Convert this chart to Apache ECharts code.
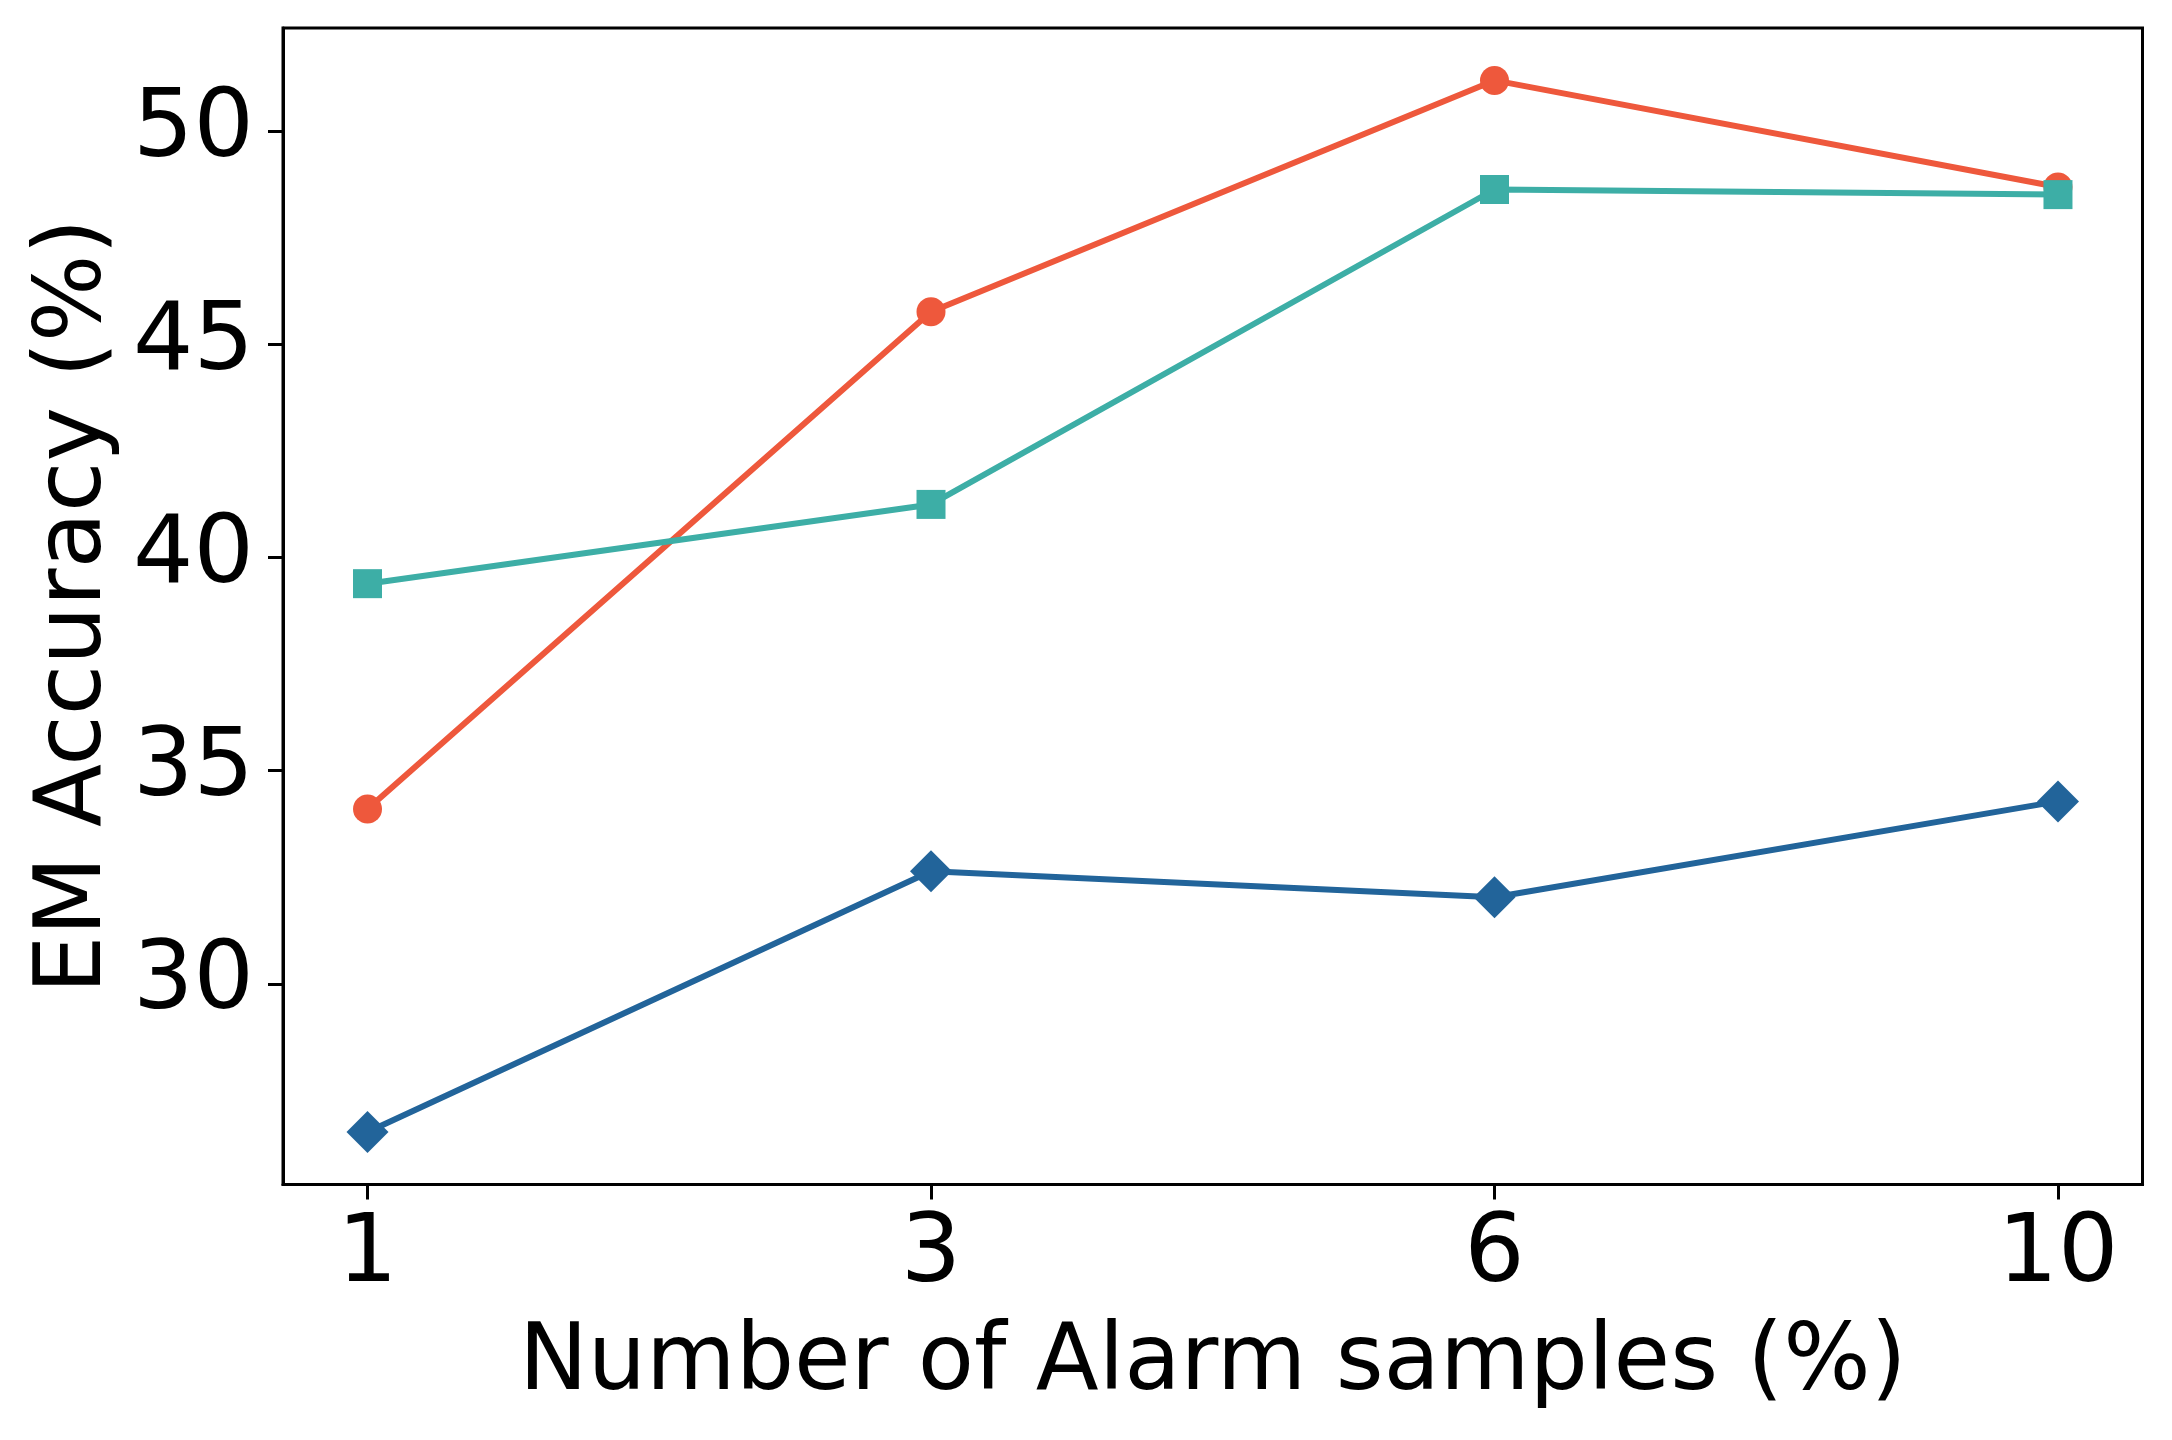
<!DOCTYPE html>
<html>
<head>
<meta charset="utf-8">
<script src="https://cdn.jsdelivr.net/npm/echarts@6/dist/echarts.min.js"></script>
<style>
html,body{margin:0;padding:0;background:#fff;}
#chart{width:2172px;height:1440px;}
</style>
</head>
<body>
<div id="chart"></div>
<script>
// ---- data ----
const categories = ['1', '3', '6', '10'];
const redValues = [34.1, 45.77, 51.2, 48.7];      // circles
const tealValues = [39.39, 41.25, 48.64, 48.52];  // squares
const blueValues = [26.52, 32.64, 32.03, 34.28];  // diamonds
const yTicks = [30, 35, 40, 45, 50];
const xAxisTitle = 'Number of Alarm samples (%)';
const yAxisTitle = 'EM Accuracy (%)';

const idx = categories.map((c, i) => i);
const toPairs = vals => vals.map((v, i) => [idx[i], v]);

const FONT = 'DejaVu Sans';
const chart = echarts.init(document.getElementById('chart'), null, {renderer: 'canvas'});

const option = {
  backgroundColor: '#ffffff',
  animation: false,
  grid: {
    left: 283, right: 29.5, top: 28, bottom: 255.5,
    show: true, borderColor: '#000', borderWidth: 3, backgroundColor: 'transparent'
  },
  xAxis: {
    type: 'value',
    min: -0.15, max: 3.15,
    splitLine: {show: false},
    axisLine: {show: true, onZero: false, lineStyle: {color: '#000', width: 3}},
    axisTick: {show: true, customValues: idx, length: 15, lineStyle: {color: '#000', width: 3}},
    axisLabel: {
      customValues: idx, margin: 24, color: '#000', fontFamily: FONT, fontSize: 95,
      formatter: v => categories[Math.round(v)]
    },
    name: xAxisTitle, nameLocation: 'middle', nameGap: 135,
    nameTextStyle: {color: '#000', fontFamily: FONT, fontSize: 92}
  },
  yAxis: {
    type: 'value',
    min: 25.29, max: 52.43,
    splitLine: {show: false},
    axisLine: {show: true, onZero: false, lineStyle: {color: '#000', width: 3}},
    axisTick: {show: true, customValues: yTicks, length: 15, lineStyle: {color: '#000', width: 3}},
    axisLabel: {customValues: yTicks, margin: 29, color: '#000', fontFamily: FONT, fontSize: 95},
    name: yAxisTitle, nameLocation: 'middle', nameGap: 157,
    nameTextStyle: {color: '#000', fontFamily: FONT, fontSize: 92}
  },
  series: [
    {
      type: 'line', data: toPairs(blueValues), symbol: 'diamond', symbolSize: 42,
      lineStyle: {color: '#22649A', width: 6}, itemStyle: {color: '#22649A'}, z: 2
    },
    {
      type: 'line', data: toPairs(redValues), symbol: 'circle', symbolSize: 29,
      lineStyle: {color: '#EE583C', width: 6}, itemStyle: {color: '#EE583C'}, z: 3
    },
    {
      type: 'line', data: toPairs(tealValues), symbol: 'rect', symbolSize: 29,
      lineStyle: {color: '#3DAEA6', width: 6}, itemStyle: {color: '#3DAEA6'}, z: 4
    }
  ]
};
chart.setOption(option);
</script>
</body>
</html>
